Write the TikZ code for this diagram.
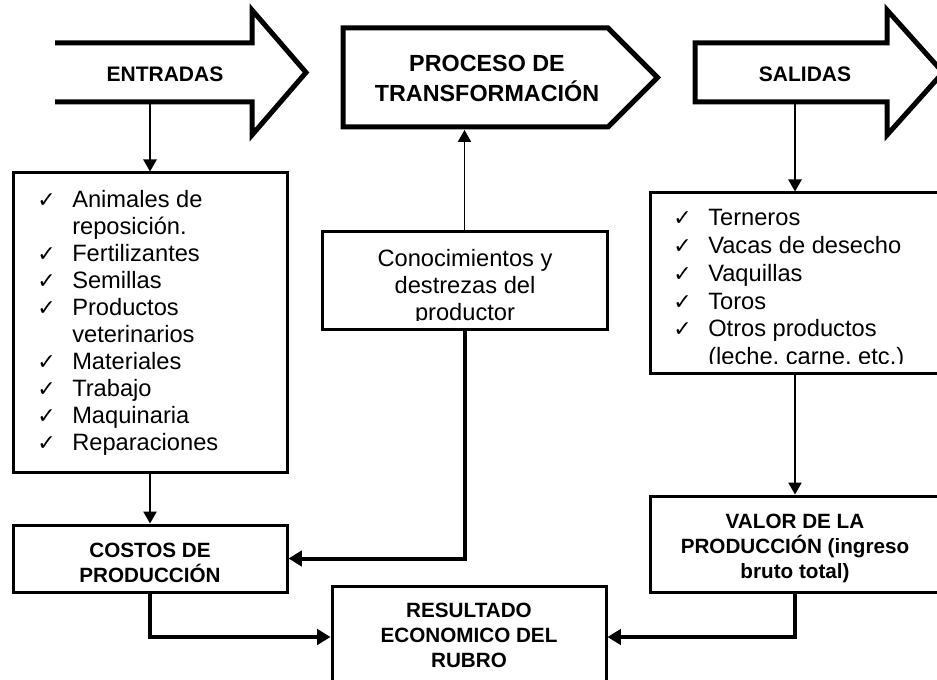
\documentclass[tikz,border=0pt]{standalone}
\usepackage{fontspec}
\setmainfont{Liberation Sans}
\newfontfamily\checkfont{DejaVu Sans}
\usetikzlibrary{arrows.meta,positioning}

\newcommand{\chk}{\makebox[26.25pt][l]{\checkfont\fontsize{16.5}{16.5}\selectfont ✓}}
\newcommand{\nochk}{\hspace*{26.25pt}}

\begin{document}
\begin{tikzpicture}[x=0.75pt,y=-0.75pt,
  bigarrow/.style={line width=3.75pt, line join=miter, miter limit=10},
  box/.style 2 args={draw, line width=2.25pt, inner sep=0pt,
    minimum width=#1*0.75pt, minimum height=#2*0.75pt},
  headtext/.style={inner sep=0pt, font=\fontsize{15.5}{18.5}\selectfont\bfseries},
  bodytext/.style={inner sep=0pt, font=\fontsize{17.75}{20.25}\selectfont},
  thinarrow/.style={line width=1pt, -{Triangle[length=9pt,width=10pt]}},
  thickarrow/.style={line width=3pt, -{Triangle[length=10pt,width=11.5pt]}}]
\useasboundingbox (0,0) rectangle (937,680);
\clip (0,0) rectangle (937,680);

% big arrows on top
\draw[bigarrow] (55,43) -- (252,43) -- (252,10) -- (306,72.5)
  -- (252,135) -- (252,102) -- (55,102);
\draw[bigarrow] (343,28) -- (608,28) -- (657.5,77.5) -- (608,127)
  -- (343,127) -- cycle;
\draw[bigarrow] (695,43) -- (887,43) -- (887,10) -- (943,72.5)
  -- (887,135) -- (887,102) -- (695,102) -- cycle;
\node[headtext, font=\fontsize{15.75}{18.5}\selectfont\bfseries, anchor=base]
  (entradas) at (165,82) {ENTRADAS};
\node[headtext, font=\fontsize{17.5}{21}\selectfont\bfseries, anchor=base]
  (proceso) at (487,72) {\begin{tabular}[t]{@{}c@{}}PROCESO DE\\TRANSFORMACIÓN\end{tabular}};
\node[headtext, font=\fontsize{15.75}{18.5}\selectfont\bfseries, anchor=base]
  (salidas) at (805,82) {SALIDAS};
\coordinate (entradas-out) at (150,104);
\coordinate (proceso-in) at (464.5,130);
\coordinate (salidas-out) at (795,104);

% boxes
\node[box={274}{299}] (inputs) at (150,322.5) {};
\node[box={274}{67}] (costos) at (150,558.5) {};
\node[box={285}{98}] (conoc) at (464.5,281) {};
\node[box={290}{180}] (outputs) at (795,283) {};
\node[box={290}{96}] (valor) at (795,544) {};
\node[box={274}{102}] (result) at (469,637) {};

% box texts
\node[bodytext, anchor=base west] (inputs-text) at (37,208) {%
  \begin{tabular}[t]{@{}l@{}}
  \chk Animales de\\
  \nochk reposición.\\
  \chk Fertilizantes\\
  \chk Semillas\\
  \chk Productos\\
  \nochk veterinarios\\
  \chk Materiales\\
  \chk Trabajo\\
  \chk Maquinaria\\
  \chk Reparaciones
  \end{tabular}};
\begin{scope}
\clip (324,234) rectangle (605,321);
\node[bodytext, anchor=base] (conoc-text) at (465,267) {%
  \begin{tabular}[t]{@{}c@{}}Conocimientos y\\destrezas del\\productor\end{tabular}};
\end{scope}
\begin{scope}
\clip (652,195) rectangle (937,363);
\node[bodytext, font=\fontsize{17.75}{20.8}\selectfont, anchor=base west]
  (outputs-text) at (673,226) {%
  \begin{tabular}[t]{@{}l@{}}
  \chk Terneros\\
  \chk Vacas de desecho\\
  \chk Vaquillas\\
  \chk Toros\\
  \chk Otros productos\\
  \nochk (leche, carne, etc.)
  \end{tabular}};
\end{scope}
\node[headtext, font=\fontsize{15.5}{17.5}\selectfont\bfseries, anchor=base]
  (costos-text) at (150,557) {\begin{tabular}[t]{@{}c@{}}COSTOS DE\\PRODUCCIÓN\end{tabular}};
\node[headtext, anchor=base] (valor-text) at (795,528) {%
  \begin{tabular}[t]{@{}c@{}}VALOR DE LA\\PRODUCCIÓN (ingreso\\bruto total)\end{tabular}};
\node[headtext, font=\fontsize{15.5}{18.75}\selectfont\bfseries, anchor=base]
  (result-text) at (469,617) {%
  \begin{tabular}[t]{@{}c@{}}RESULTADO\\ECONOMICO DEL\\RUBRO\end{tabular}};

% connectors
\draw[thinarrow] (entradas-out) -- (inputs.north);
\draw[thinarrow] (inputs.south) -- (costos.north);
\draw[thinarrow] (conoc.north) -- (proceso-in);
\draw[thinarrow] (salidas-out) -- (outputs.north);
\draw[thinarrow] (outputs.south) -- (valor.north);
\draw[thickarrow] (conoc.south) |- (costos.east);
\draw[thickarrow] (costos.south) |- (result.west);
\draw[thickarrow] (valor.south) |- (result.east);
\end{tikzpicture}
\end{document}
